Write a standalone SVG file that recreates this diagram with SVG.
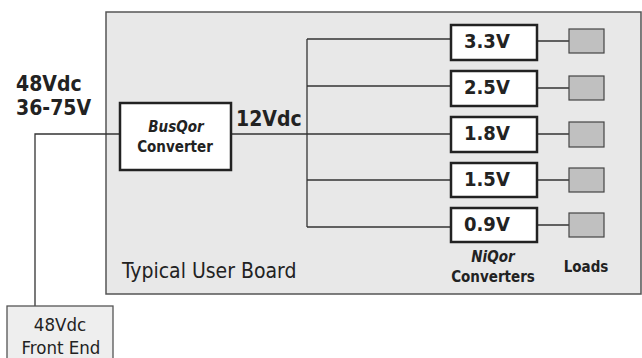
<svg xmlns="http://www.w3.org/2000/svg" width="642" height="358" viewBox="0 0 642 358">
<style>
text{font-family:"DejaVu Sans Condensed","DejaVu Sans","Liberation Sans",sans-serif;font-stretch:condensed;fill:#222}
.b{font-weight:bold}
.i{font-style:italic;font-weight:bold}
.conv{fill:#fff;stroke:#222;stroke-width:2.5}
.load{fill:#c0c0c0;stroke:#444;stroke-width:1.2}
.ln{fill:none;stroke:#333;stroke-width:1.3}
</style>
<g id="board">
<rect x="106" y="12" width="535" height="282" fill="#e8e8e8" stroke="#555" stroke-width="1.5"/>
<text x="122" y="278" font-size="21">Typical User Board</text>
</g>
<g id="connectors">
<path class="ln" d="M35,306 V134 H120"/>
<path class="ln" d="M231,134 H307"/>
<path class="ln" d="M307,39 V227"/>
<path class="ln" d="M307,39 H451 M307,86 H451 M307,134 H451 M307,180 H451 M307,227 H451"/>
<path class="ln" d="M537,41 H569 M537,88 H569 M537,134 H569 M537,180 H569 M537,225 H569"/>
</g>
<g id="input-label">
<text class="b" x="16" y="91" font-size="21">48Vdc</text>
<text class="b" x="16" y="115" font-size="21">36-75V</text>
</g>
<g id="busqor">
<rect x="120" y="103" width="111" height="67" class="conv"/>
<text class="i" x="176" y="132" font-size="15" text-anchor="middle">BusQor</text>
<text class="b" x="175" y="152" font-size="15" text-anchor="middle">Converter</text>
</g>
<g id="bus-label"><text class="b" x="236" y="126" font-size="21">12Vdc</text></g>
<g id="conv33"><rect x="451" y="25" width="86" height="35" class="conv"/><text class="b" x="464" y="48" font-size="20">3.3V</text></g>
<g id="conv25"><rect x="451" y="71" width="86" height="35" class="conv"/><text class="b" x="464" y="94" font-size="20">2.5V</text></g>
<g id="conv18"><rect x="451" y="117" width="86" height="35" class="conv"/><text class="b" x="464" y="140" font-size="20">1.8V</text></g>
<g id="conv15"><rect x="451" y="163" width="86" height="34" class="conv"/><text class="b" x="464" y="186" font-size="20">1.5V</text></g>
<g id="conv09"><rect x="451" y="208" width="86" height="34" class="conv"/><text class="b" x="464" y="231" font-size="20">0.9V</text></g>
<g id="load1"><rect x="569" y="29" width="35" height="24" class="load"/></g>
<g id="load2"><rect x="569" y="76" width="35" height="24" class="load"/></g>
<g id="load3"><rect x="569" y="122" width="35" height="25" class="load"/></g>
<g id="load4"><rect x="569" y="168" width="35" height="24" class="load"/></g>
<g id="load5"><rect x="569" y="213" width="35" height="24" class="load"/></g>
<g id="niqor-label">
<text class="i" x="493" y="262" font-size="15" text-anchor="middle">NiQor</text>
<text class="b" x="493" y="282" font-size="15" text-anchor="middle">Converters</text>
</g>
<g id="loads-label"><text class="b" x="586" y="272" font-size="15" text-anchor="middle">Loads</text></g>
<g id="frontend">
<rect x="7" y="306" width="106" height="60" fill="#eeeeee" stroke="#555" stroke-width="1.3"/>
<text x="60" y="331" font-size="18.5" text-anchor="middle">48Vdc</text>
<text x="61" y="354" font-size="18.5" text-anchor="middle">Front End</text>
</g>
</svg>
